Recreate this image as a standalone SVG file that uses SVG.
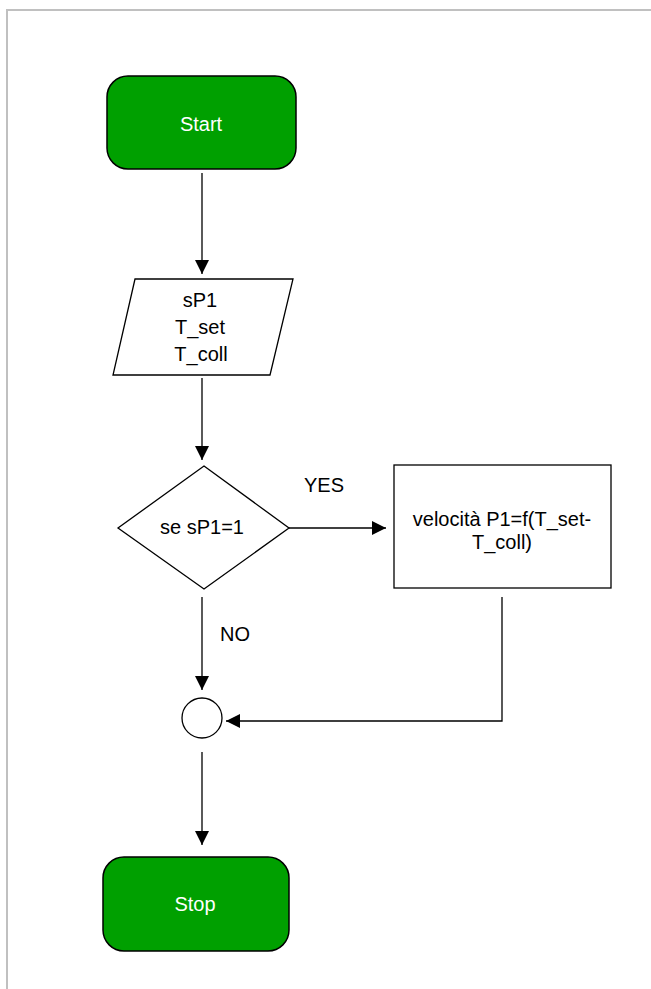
<svg xmlns="http://www.w3.org/2000/svg" width="651" height="989" viewBox="0 0 651 989">
<style>
.t{font-family:"Liberation Sans",Arial,sans-serif;font-size:20px;text-anchor:middle;fill:#000}
.w{fill:#fff}
.term{fill:#00a000;stroke:#000;stroke-width:1.5}
.sh{fill:#fff;stroke:#000;stroke-width:1.3}
.c{fill:none;stroke:#000;stroke-width:1.3}
</style>
<defs>
<marker id="a" viewBox="0 0 14 14" refX="14" refY="7" markerWidth="14" markerHeight="14" markerUnits="userSpaceOnUse" orient="auto">
<path d="M0,0 L14,7 L0,14 Z" fill="#000"/>
</marker>
</defs>
<rect width="651" height="989" fill="#fff"/>
<path d="M7,989 V10 H651" fill="none" stroke="#c0c0c0" stroke-width="2"/>
<g id="connectors">
<line class="c" x1="202" y1="173" x2="202" y2="274" marker-end="url(#a)"/>
<line class="c" x1="202" y1="378" x2="202" y2="460" marker-end="url(#a)"/>
<line class="c" x1="289" y1="528" x2="386" y2="528" marker-end="url(#a)"/>
<line class="c" x1="202" y1="597" x2="202" y2="690" marker-end="url(#a)"/>
<polyline class="c" points="502,597 502,721 226,721" marker-end="url(#a)"/>
<line class="c" x1="202" y1="752" x2="202" y2="845" marker-end="url(#a)"/>
<text class="t" x="324" y="492">YES</text>
<text class="t" x="235" y="641">NO</text>
</g>
<g id="start">
<rect class="term" x="107" y="76" width="189" height="93" rx="21"/>
<text class="t w" x="201" y="131">Start</text>
</g>
<g id="input">
<polygon class="sh" points="135,279 293,279 270,375 113,375"/>
<text class="t" x="200" y="307">sP1</text>
<text class="t" x="200" y="334">T_set</text>
<text class="t" x="201" y="361">T_coll</text>
</g>
<g id="decision">
<polygon class="sh" points="204,466 289,528 204,589 118,528"/>
<text class="t" x="202" y="534">se sP1=1</text>
</g>
<g id="process">
<rect class="sh" x="394" y="465" width="217" height="123"/>
<text class="t" x="502" y="526">velocità P1=f(T_set-</text>
<text class="t" x="502" y="549">T_coll)</text>
</g>
<g id="junction">
<circle class="sh" cx="202" cy="718" r="20"/>
</g>
<g id="stop">
<rect class="term" x="103" y="857" width="186" height="94" rx="21"/>
<text class="t w" x="195" y="911">Stop</text>
</g>
</svg>
